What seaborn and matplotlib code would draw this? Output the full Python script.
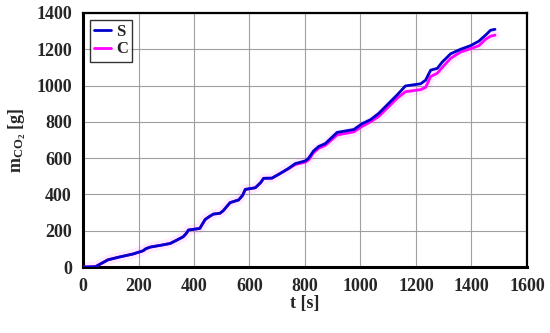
import matplotlib
matplotlib.use("Agg")
import matplotlib.pyplot as plt
import seaborn as sns
import pandas as pd
from matplotlib.lines import Line2D

t = [0, 45, 60, 90, 130, 180, 217, 225, 242, 280, 314, 340, 361, 372, 380, 421, 440, 457,
     470, 493, 505, 530, 561, 575, 585, 621, 640, 651, 681, 711, 741, 765, 801, 813, 831,
     850, 873, 916, 976, 1006, 1036, 1066, 1096, 1132, 1162, 1217, 1235, 1253, 1277, 1295,
     1325, 1361, 1397, 1427, 1451, 1469, 1485]
S = [0, 2, 15, 40, 55, 72, 90, 100, 110, 120, 130, 150, 167, 185, 204, 213, 262, 280,
     292, 296, 310, 355, 370, 395, 428, 437, 465, 489, 490, 516, 544, 570, 585, 600, 640,
     665, 680, 742, 758, 790, 812, 847, 893, 948, 998, 1010, 1030, 1085, 1095, 1130,
     1175, 1200, 1220, 1245, 1278, 1305, 1310]
C = [0, 2, 15, 40, 55, 72, 90, 100, 110, 120, 130, 150, 167, 185, 204, 213, 262, 280,
     292, 296, 310, 355, 370, 395, 428, 437, 465, 489, 490, 516, 542, 565, 578, 590, 630,
     655, 670, 728, 745, 775, 800, 830, 875, 930, 966, 978, 990, 1050, 1068, 1100,
     1150, 1185, 1203, 1220, 1255, 1272, 1278]
series_names = ["S", "C"]
x_ticks = [0, 200, 400, 600, 800, 1000, 1200, 1400, 1600]
y_ticks = [0, 200, 400, 600, 800, 1000, 1200, 1400]

df = pd.DataFrame({
    "t": t + t,
    "m": S + C,
    "series": [series_names[0]] * len(t) + [series_names[1]] * len(t),
})

sns.set_style("white")
plt.rcParams["font.family"] = ["Liberation Serif", "DejaVu Serif"]
plt.rcParams["mathtext.fontset"] = "custom"
plt.rcParams["mathtext.rm"] = "Liberation Serif:bold"
plt.rcParams["mathtext.bf"] = "Liberation Serif:bold"

fig = plt.figure(figsize=(5.5, 3.33), dpi=100)
ax = fig.add_axes([0.151, 0.198, 0.807, 0.763])

# faint halo under C
ax.plot(df[df.series == "C"]["t"], df[df.series == "C"]["m"], color="#ff00ff",
        lw=7, alpha=0.08, zorder=1, solid_capstyle="round")
sns.lineplot(data=df, x="t", y="m", hue="series", palette={"S": "#0000cc", "C": "#ff00ff"},
             hue_order=["C", "S"], linewidth=2.0, ax=ax, legend=False, zorder=3)

ax.set_xlim(0, 1600)
ax.set_ylim(0, 1400)
ax.set_xticks(x_ticks)
ax.set_yticks(y_ticks)
ax.set_xticklabels([str(v) for v in x_ticks], fontsize=13, fontweight="bold")
ax.set_yticklabels([str(v) for v in y_ticks], fontsize=13, fontweight="bold")
ax.grid(True, color="#a0a0a0", lw=0.8)
ax.set_axisbelow(True)
ax.tick_params(axis="both", length=3, color="#a0a0a0", pad=5)
for side in ["left", "bottom"]:
    ax.spines[side].set_linewidth(2.2)
for side in ["top", "right"]:
    ax.spines[side].set_linewidth(1.6)
for sp in ax.spines.values():
    sp.set_color("black")
    sp.set_visible(True)

ax.set_xlabel("t [s]", fontsize=13, fontweight="bold", labelpad=0)
ax.set_ylabel(r"$\mathbf{m_{CO_2}}$ [g]", fontsize=13, fontweight="bold", labelpad=6)

handles = [Line2D([], [], color="#0000cc", lw=2), Line2D([], [], color="#ff00ff", lw=2)]
leg = ax.legend(handles, series_names, loc="upper left", fancybox=False, frameon=True,
                edgecolor="black", handlelength=1.0, handletextpad=0.35, borderpad=0.25,
                labelspacing=0.1, prop={"weight": "bold", "size": 12},
                bbox_to_anchor=(0.0, 1.0), borderaxespad=0.4)
leg.get_frame().set_linewidth(1.0)

fig.savefig("out.png", dpi=100)
